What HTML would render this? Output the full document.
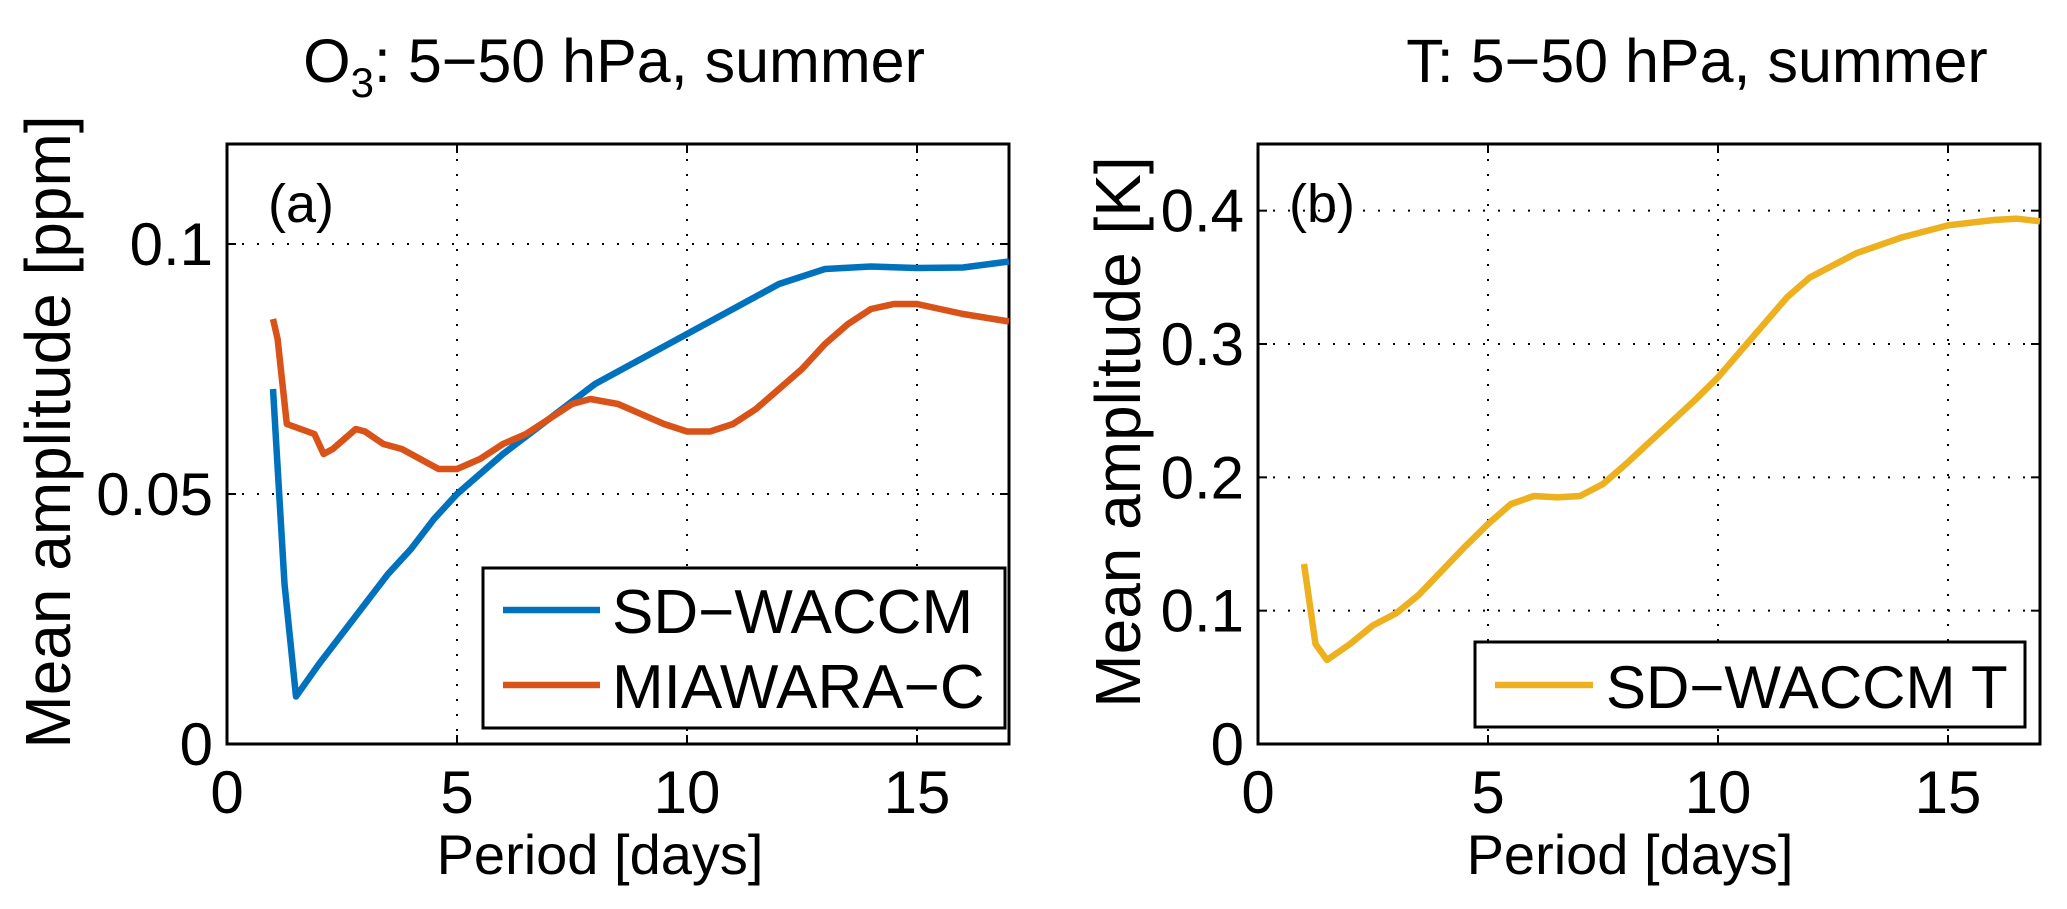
<!DOCTYPE html>
<html><head><meta charset="utf-8"><style>
html,body{margin:0;padding:0;background:#fff}
svg{display:block;font-family:"Liberation Sans",sans-serif}
</style></head><body>
<svg id="fig" width="2067" height="909" viewBox="0 0 2067 909" xmlns="http://www.w3.org/2000/svg"></svg>
<script>
const daysA = [1,1.25,1.5,2,2.5,3,3.5,4,4.5,5,5.5,6,7,8,9,10,11,12,13,14,15,16,17];
const waccmO3 = [.071,.032,.0095,.016,.022,.028,.034,.039,.045,.050,.054,.058,.065,.072,.077,.082,.087,.092,.095,.0955,.0952,.0953,.0965];
const daysB = [1,1.1,1.3,1.6,1.9,2.1,2.3,2.8,3.0,3.4,3.8,4.2,4.6,5.0,5.5,6,6.5,7,7.5,7.9,8.5,9,9.5,10,10.5,11,11.5,12,12.5,13,13.5,14,14.5,15,15.5,16,17];
const miawaraO3 = [.085,.081,.064,.063,.062,.058,.059,.063,.0625,.060,.059,.057,.055,.055,.057,.060,.062,.065,.068,.069,.068,.066,.064,.0625,.0625,.064,.067,.071,.075,.080,.084,.087,.088,.088,.087,.086,.0845];
const daysT = [1,1.25,1.5,2,2.5,3,3.5,4,4.5,5,5.5,6,6.5,7,7.5,8,8.5,9,9.5,10,10.5,11,11.5,12,13,14,15,16,16.5,17];
const waccmT = [.135,.075,.063,.075,.089,.098,.112,.13,.148,.165,.18,.186,.185,.186,.195,.21,.226,.242,.258,.275,.295,.315,.335,.35,.368,.38,.389,.393,.394,.392];
const xTicks = [0,5,10,15];
const yTicksA = [0,0.05,0.1];
const yTickLabelsA = ["0","0.05","0.1"];
const yTicksB = [0,0.1,0.2,0.3,0.4];
const yTickLabelsB = ["0","0.1","0.2","0.3","0.4"];

const NS="http://www.w3.org/2000/svg";
const svg=document.getElementById('fig');
function mk(tag,attrs,parent,txt){const e=document.createElementNS(NS,tag);for(const k in attrs)e.setAttribute(k,attrs[k]);if(txt!==undefined)e.textContent=txt;(parent||svg).appendChild(e);return e;}

function panel(L,R,T,B,ymax,yt,ytl,id){
  const g=mk('g',{});
  
  
  const sx=d=>L+(d/17)*(R-L), sy=v=>B-(v/ymax)*(B-T);
  xTicks.forEach(t=>{ if(t>0){
    const l=mk('line',{x1:sx(t),x2:sx(t),y1:T,y2:B,stroke:'#000','stroke-width':2,'stroke-dasharray':'2 13'},g);
    
    }
    mk('line',{x1:sx(t),x2:sx(t),y1:B,y2:B-9,stroke:'#000','stroke-width':2},g);
    mk('line',{x1:sx(t),x2:sx(t),y1:T,y2:T+9,stroke:'#000','stroke-width':2},g);
    const tx=mk('text',{x:sx(t),y:813,'font-size':60,'text-anchor':'middle'},g,String(t));
    
    
  });
  yt.forEach((t,i)=>{ if(t>0){
    const l=mk('line',{x1:L,x2:R,y1:sy(t),y2:sy(t),stroke:'#000','stroke-width':2,'stroke-dasharray':'2 13'},g);
    
    }
    mk('line',{x1:L,x2:L+9,y1:sy(t),y2:sy(t),stroke:'#000','stroke-width':2},g);
    mk('line',{x1:R,x2:R-9,y1:sy(t),y2:sy(t),stroke:'#000','stroke-width':2},g);
    const tx=mk('text',{x:L-14,y:sy(t)+21,'font-size':60,'text-anchor':'end'},g,ytl[i]);
    
    
  });
  const box=mk('rect',{x:L,y:T,width:R-L,height:B-T,fill:'none',stroke:'#000','stroke-width':3},g);
  
  
  return {sx,sy};
}
function series(ax,xs,ys,color,name){
  const p=mk('polyline',{points:xs.map((d,i)=>ax.sx(d)+','+ax.sy(ys[i])).join(' '),fill:'none',stroke:color,'stroke-width':6.5,'stroke-linejoin':'round'});
  
  
}
const axA=panel(227,1009,144,744,0.12,yTicksA,yTickLabelsA,'panel-a');
const axB=panel(1258,2040,144,744,0.45,yTicksB,yTickLabelsB,'panel-b');
series(axA,daysA,waccmO3,'#0072BD','sd-waccm-o3-line');
series(axA,daysB,miawaraO3,'#D95319','miawara-c-line');
series(axB,daysT,waccmT,'#EDB120','sd-waccm-t-line');
</script>
<script>
(function(){
const NS="http://www.w3.org/2000/svg";const svg=document.getElementById('fig');
function mk(tag,attrs,txt){const e=document.createElementNS(NS,tag);for(const k in attrs)e.setAttribute(k,attrs[k]);if(txt!==undefined)e.textContent=txt;svg.appendChild(e);return e;}
let e;
e=mk('text',{x:614,y:82,'font-size':61,'text-anchor':'middle'});
e.innerHTML='O<tspan font-size="42" dy="15">3</tspan><tspan dy="-15">: 5−50 hPa, summer</tspan>';


e=mk('text',{x:1697,y:82,'font-size':61,'text-anchor':'middle'},'T: 5−50 hPa, summer');


e=mk('text',{x:600,y:874,'font-size':56,'text-anchor':'middle'},'Period [days]');


e=mk('text',{x:1630,y:874,'font-size':56,'text-anchor':'middle'},'Period [days]');


e=mk('text',{x:0,y:0,'font-size':64,'text-anchor':'middle',transform:'translate(70,432) rotate(-90)'},'Mean amplitude [ppm]');


e=mk('text',{x:0,y:0,'font-size':64,'text-anchor':'middle',transform:'translate(1140,432) rotate(-90)'},'Mean amplitude [K]');


e=mk('text',{x:268,y:222,'font-size':54},'(a)');


e=mk('text',{x:1289,y:222,'font-size':54},'(b)');


// legend a
e=mk('rect',{x:483,y:568,width:522,height:160,fill:'#fff',stroke:'#000','stroke-width':3});


e=mk('line',{x1:503,x2:600,y1:610,y2:610,stroke:'#0072BD','stroke-width':6.5});


e=mk('text',{x:612,y:633,'font-size':62},'SD−WACCM');


e=mk('line',{x1:503,x2:600,y1:685,y2:685,stroke:'#D95319','stroke-width':6.5});


e=mk('text',{x:612,y:708,'font-size':62},'MIAWARA−C');


// legend b
e=mk('rect',{x:1475,y:642,width:550,height:85,fill:'#fff',stroke:'#000','stroke-width':3});


e=mk('line',{x1:1495,x2:1593,y1:685,y2:685,stroke:'#EDB120','stroke-width':6.5});


e=mk('text',{x:1606,y:708,'font-size':60},'SD−WACCM T');


})();
</script>
</body></html>
